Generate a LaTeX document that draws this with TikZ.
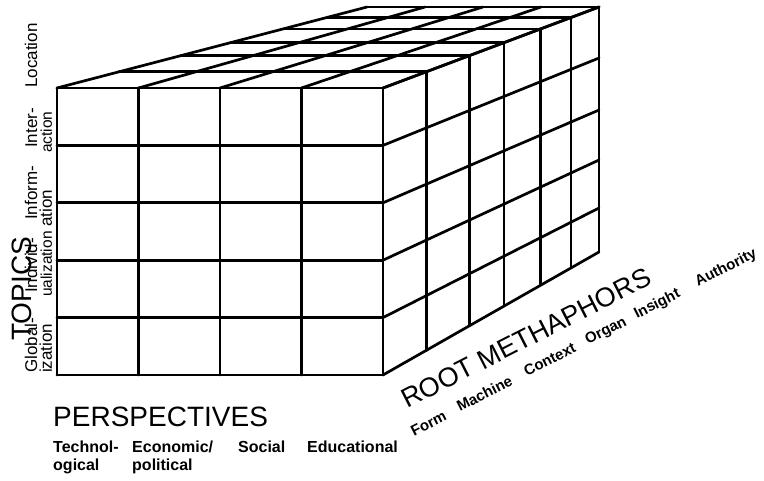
\documentclass[tikz,border=0pt]{standalone}
\usepackage{fontspec}
\setmainfont{Liberation Sans}
\usetikzlibrary{calc}

\begin{document}
\begin{tikzpicture}[x=1pt,y=-1pt,
    grid/.style={line width=2.7pt,line cap=round,line join=round},
    axislabel/.style={inner sep=0pt,anchor=base west,font=\fontsize{28}{30}\selectfont},
    topiclabel/.style={inner sep=0pt,anchor=base west,rotate=90,font=\fontsize{17}{19}\selectfont},
    smalltopic/.style={topiclabel,font=\fontsize{15.5}{17}\selectfont},
    perslabel/.style={inner sep=0pt,anchor=base west,font=\bfseries\fontsize{16}{18}\selectfont},
    metalabel/.style={inner sep=0pt,anchor=base west,rotate=27,font=\bfseries\fontsize{15}{17}\selectfont}]
\useasboundingbox (0,0) rectangle (764,480);

% corners of the block
\coordinate (ftl) at (57,88);
\coordinate (ftr) at (383,88);
\coordinate (fbl) at (57,375);
\coordinate (fbr) at (383,375);
\coordinate (btl) at (367,7);
\coordinate (btr) at (599,7);
\coordinate (bbr) at (599,252);

% front face
\foreach \i in {0,...,4} {
  \pgfmathsetmacro\fx{57+81.5*\i}
  \pgfmathsetmacro\bx{367+58*\i}
  \draw[grid] (\fx,88) -- (\fx,375);
  \draw[grid] (\fx,88) -- (\bx,7);
}
\foreach \j in {0,...,5} {
  \pgfmathsetmacro\fy{88+57.4*\j}
  \draw[grid] (57,\fy) -- (383,\fy);
}

% top face and right face, one layer per metaphor
\foreach \t in {0.2,0.4,0.56,0.73,0.87,1} {
  \draw[grid] ($(ftl)!\t!(btl)$) -- ($(ftr)!\t!(btr)$);
  \draw[grid] ($(ftr)!\t!(btr)$) -- ($(fbr)!\t!(bbr)$);
}
\foreach \j/\yb in {0/7,1/58,2/110,3/160,4/208,5/252} {
  \pgfmathsetmacro\fy{88+57.4*\j}
  \draw[grid] (383,\fy) -- (599,\yb);
}

% axis titles
\node[axislabel] (persp) at (53,426) {PERSPECTIVES};
\node[axislabel,rotate=90] (topics) at (31,341) {TOPICS};
\node[axislabel,rotate=27,font=\fontsize{27}{29}\selectfont] (metaph) at (407,409) {ROOT METHAPHORS};

% topics
\node[topiclabel] (loc) at (37,88) {Location};
\node[topiclabel] (inter1) at (37,148) {Inter-};
\node[smalltopic] (inter2) at (52,153) {action};
\node[topiclabel] (inform1) at (37,220) {Inform-};
\node[topiclabel] (inform2) at (52,227) {ation};
\node[topiclabel] (indiv1) at (37,293) {Individ-};
\node[smalltopic] (indiv2) at (52,297) {ualization};
\node[topiclabel] (glob1) at (37,373) {Global-};
\node[topiclabel] (glob2) at (52,373) {ization};

% perspectives
\node[perslabel] (tech1) at (53,452) {Technol-};
\node[perslabel] (tech2) at (53,470) {ogical};
\node[perslabel] (econ1) at (132,452) {Economic/};
\node[perslabel] (econ2) at (132,470) {political};
\node[perslabel] (soc) at (238,452) {Social};
\node[perslabel] (edu) at (307,452) {Educational};

% root metaphors
\node[metalabel] (form) at (414,437) {Form};
\node[metalabel] (mach) at (460,412) {Machine};
\node[metalabel] (cont) at (527,377) {Context};
\node[metalabel] (organ) at (588,345) {Organ};
\node[metalabel] (insi) at (637,319) {Insight};
\node[metalabel] (auth) at (698,287) {Authority};
\end{tikzpicture}
\end{document}
